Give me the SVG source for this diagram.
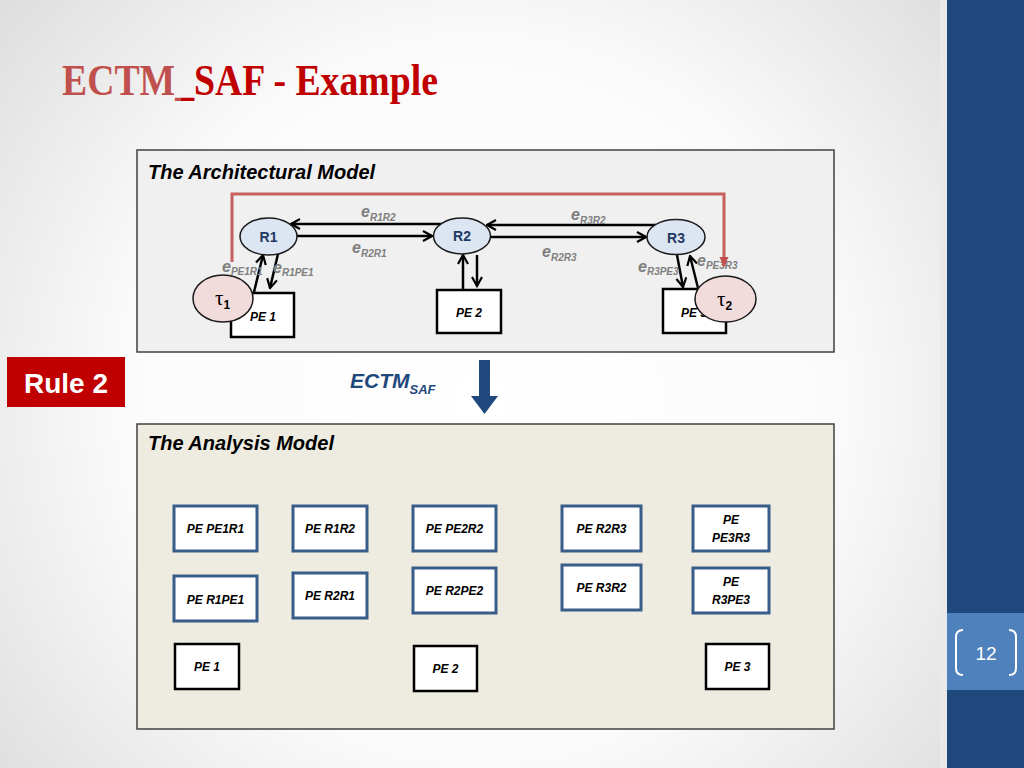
<svg xmlns="http://www.w3.org/2000/svg" width="1024" height="768" viewBox="0 0 1024 768">
<defs>
<radialGradient id="bg" cx="480" cy="400" r="640" gradientUnits="userSpaceOnUse">
<stop offset="0" stop-color="#ffffff"/>
<stop offset="0.55" stop-color="#fbfbfb"/>
<stop offset="1" stop-color="#dcdcdc"/>
</radialGradient>
<linearGradient id="ttlfill" x1="62" y1="0" x2="438" y2="0" gradientUnits="userSpaceOnUse">
<stop offset="0" stop-color="#c0504d"/>
<stop offset="0.316" stop-color="#c0504d"/>
<stop offset="0.316" stop-color="#c00000"/>
<stop offset="1" stop-color="#c00000"/>
</linearGradient>
<marker id="ah" viewBox="0 0 12 12" refX="10.5" refY="6" markerWidth="12" markerHeight="12" markerUnits="userSpaceOnUse" orient="auto">
<path d="M1.5,1 L10.5,6 L1.5,11" fill="none" stroke="#000" stroke-width="2.2" stroke-linejoin="miter"/>
</marker>
<marker id="rah" viewBox="0 0 10 10" refX="9" refY="5" markerWidth="10" markerHeight="10" markerUnits="userSpaceOnUse" orient="auto">
<path d="M0,0.5 L10,5 L0,9.5 Z" fill="#c0504d"/>
</marker>
<style>
.panelA{fill:#f0f0f0;stroke:#404040;stroke-width:1.5}
.panelB{fill:#eeece1;stroke:#404040;stroke-width:1.5}
.ptitle{font-family:"Liberation Sans",Arial,sans-serif;font-weight:bold;font-style:italic;font-size:20px;fill:#000}
.conn{stroke:#000;stroke-width:2.5;fill:none;marker-end:url(#ah)}
.router{fill:#dce6f2;stroke:#1a1a1a;stroke-width:1.5}
.rlab{font-family:"Liberation Sans",Arial,sans-serif;font-weight:bold;font-size:14px;fill:#1f3864;text-anchor:middle}
.task{fill:#f2dcdb;stroke:#1a1a1a;stroke-width:1.5}
.tlab{font-family:"Liberation Serif","DejaVu Serif",serif;font-size:21px;fill:#000}
.tsub{font-family:"Liberation Sans",Arial,sans-serif;font-weight:bold;font-size:12px}
.pe{fill:#fff;stroke:#000;stroke-width:2.5}
.pelab{font-family:"Liberation Sans",Arial,sans-serif;font-weight:bold;font-style:italic;font-size:12px;fill:#000;text-anchor:middle}
.bpe{fill:#fff;stroke:#385d8a;stroke-width:3}
.elab{font-family:"Liberation Sans",Arial,sans-serif;font-weight:bold;font-style:italic;font-size:16px;fill:#7f7f7f}
.esub{font-size:10px}
.red{stroke:#c0504d;stroke-width:3;fill:none;stroke-opacity:0.9}
.ttl{font-family:"Liberation Serif","Times New Roman",serif;font-weight:bold;font-size:44px}
</style>
</defs>
<rect x="0" y="0" width="1024" height="768" fill="url(#bg)"/>
<rect x="940" y="0" width="7" height="768" fill="#e9e9e9"/>
<rect x="947" y="0" width="77" height="768" fill="#1f497d"/>
<rect x="947" y="613" width="77" height="77" fill="#4f81bd"/>
<g id="page-number">
<path d="M963,630 Q956,630 956,637 L956,668 Q956,675 963,675" fill="none" stroke="#fff" stroke-width="2"/>
<path d="M1009,630 Q1016,630 1016,637 L1016,668 Q1016,675 1009,675" fill="none" stroke="#fff" stroke-width="2"/>
<text x="986" y="660" font-family="Liberation Sans, Arial, sans-serif" font-size="19" fill="#fff" text-anchor="middle">12</text>
</g>
<g id="title">
<text class="ttl" x="62" y="95" fill="url(#ttlfill)" textLength="376" lengthAdjust="spacingAndGlyphs">ECTM_SAF - Example</text>
</g>
<g id="architectural-panel">
<rect class="panelA" x="137" y="150" width="697" height="202"/>
<text class="ptitle" x="148" y="179">The Architectural Model</text>
</g>
<g id="analysis-panel">
<rect class="panelB" x="137" y="424" width="697" height="305"/>
<text class="ptitle" x="148" y="450">The Analysis Model</text>
</g>
<g id="rule2">
<rect x="7" y="357" width="118" height="50" fill="#c00000"/>
<text x="66" y="393" font-family="Liberation Sans, Arial, sans-serif" font-weight="bold" font-size="28" fill="#fff" text-anchor="middle">Rule 2</text>
</g>
<g id="ectm-saf">
<text x="350" y="388" font-family="Liberation Sans, Arial, sans-serif" font-weight="bold" font-style="italic" font-size="21" fill="#1f497d">ECTM<tspan font-size="13" dy="6">SAF</tspan></text>
<polygon points="479,360 490,360 490,396 498,396 484.5,414 471,396 479,396" fill="#1f497d"/>
</g>
<g id="connectors">
<line class="conn" x1="446" y1="224" x2="291" y2="224"/>
<line class="conn" x1="297" y1="236" x2="432" y2="236"/>
<line class="conn" x1="656" y1="225" x2="487" y2="225"/>
<line class="conn" x1="491" y1="237" x2="646" y2="237"/>
<line class="conn" x1="254" y1="292" x2="263" y2="255"/>
<line class="conn" x1="278" y1="254" x2="270" y2="288"/>
<line class="conn" x1="463" y1="290" x2="463" y2="255"/>
<line class="conn" x1="477" y1="255" x2="477" y2="286"/>
<line class="conn" x1="677" y1="255" x2="683" y2="287"/>
<line class="conn" x1="698" y1="288" x2="690" y2="256"/>
</g>
<g id="edge-labels">
<text class="elab" x="361" y="217">e<tspan class="esub" dy="4">R1R2</tspan></text>
<text class="elab" x="352" y="253">e<tspan class="esub" dy="4">R2R1</tspan></text>
<text class="elab" x="571" y="220">e<tspan class="esub" dy="4">R3R2</tspan></text>
<text class="elab" x="542" y="257">e<tspan class="esub" dy="4">R2R3</tspan></text>
<text class="elab" x="222" y="272">e<tspan class="esub" dy="3">PE1R1</tspan></text>
<text class="elab" x="273" y="273">e<tspan class="esub" dy="3">R1PE1</tspan></text>
<text class="elab" x="638" y="272">e<tspan class="esub" dy="3">R3PE3</tspan></text>
<text class="elab" x="697" y="266">e<tspan class="esub" dy="3">PE3R3</tspan></text>
</g>
<g id="R1">
<ellipse class="router" cx="268.5" cy="236.5" rx="28.5" ry="18.5"/>
<text class="rlab" x="268.5" y="242">R1</text>
</g>
<g id="R2">
<ellipse class="router" cx="462" cy="236" rx="28.5" ry="18"/>
<text class="rlab" x="462" y="241">R2</text>
</g>
<g id="R3">
<ellipse class="router" cx="676" cy="237" rx="29" ry="17.5"/>
<text class="rlab" x="676" y="243">R3</text>
</g>
<g id="PE1">
<rect class="pe" x="231" y="293" width="63" height="44"/>
<text class="pelab" x="263" y="321">PE 1</text>
</g>
<g id="PE2">
<rect class="pe" x="437" y="290" width="64" height="43"/>
<text class="pelab" x="469" y="317">PE 2</text>
</g>
<g id="PE3">
<rect class="pe" x="663" y="289" width="63" height="44"/>
<text class="pelab" x="694" y="317">PE 3</text>
</g>
<g id="tau1">
<ellipse class="task" cx="223" cy="298.5" rx="30" ry="23.5"/>
<text class="tlab" x="215" y="305">τ<tspan class="tsub" dy="4">1</tspan></text>
</g>
<g id="tau2">
<ellipse class="task" cx="725.5" cy="299" rx="30.5" ry="23"/>
<text class="tlab" x="717" y="306">τ<tspan class="tsub" dy="4">2</tspan></text>
</g>
<g id="mapping-line">
<polyline class="red" points="232,262 232,194 724,194 724,266" marker-end="url(#rah)"/>
</g>
<g id="PE-PE1R1">
<rect class="bpe" x="174" y="506" width="83" height="45"/>
<text class="pelab" x="215.5" y="533">PE PE1R1</text>
</g>
<g id="PE-R1R2">
<rect class="bpe" x="293" y="506" width="74" height="45"/>
<text class="pelab" x="330" y="533">PE R1R2</text>
</g>
<g id="PE-PE2R2">
<rect class="bpe" x="413" y="506" width="83" height="45"/>
<text class="pelab" x="454.5" y="533">PE PE2R2</text>
</g>
<g id="PE-R2R3">
<rect class="bpe" x="562" y="506" width="79" height="45"/>
<text class="pelab" x="601.5" y="533">PE R2R3</text>
</g>
<g id="PE-PE3R3">
<rect class="bpe" x="693" y="506" width="76" height="45"/>
<text class="pelab" x="731" y="524">PE</text>
<text class="pelab" x="731" y="542">PE3R3</text>
</g>
<g id="PE-R1PE1">
<rect class="bpe" x="174" y="576" width="83" height="45"/>
<text class="pelab" x="215.5" y="604">PE R1PE1</text>
</g>
<g id="PE-R2R1">
<rect class="bpe" x="293" y="573" width="74" height="45"/>
<text class="pelab" x="330" y="600">PE R2R1</text>
</g>
<g id="PE-R2PE2">
<rect class="bpe" x="413" y="568" width="83" height="45"/>
<text class="pelab" x="454.5" y="595">PE R2PE2</text>
</g>
<g id="PE-R3R2">
<rect class="bpe" x="562" y="565" width="79" height="45"/>
<text class="pelab" x="601.5" y="592">PE R3R2</text>
</g>
<g id="PE-R3PE3">
<rect class="bpe" x="693" y="568" width="76" height="45"/>
<text class="pelab" x="731" y="586">PE</text>
<text class="pelab" x="731" y="604">R3PE3</text>
</g>
<g id="A-PE1">
<rect class="pe" x="175" y="644" width="64" height="45"/>
<text class="pelab" x="207" y="671">PE 1</text>
</g>
<g id="A-PE2">
<rect class="pe" x="414" y="646" width="63" height="45"/>
<text class="pelab" x="445.5" y="673">PE 2</text>
</g>
<g id="A-PE3">
<rect class="pe" x="706" y="644" width="63" height="45"/>
<text class="pelab" x="737.5" y="671">PE 3</text>
</g>
</svg>
